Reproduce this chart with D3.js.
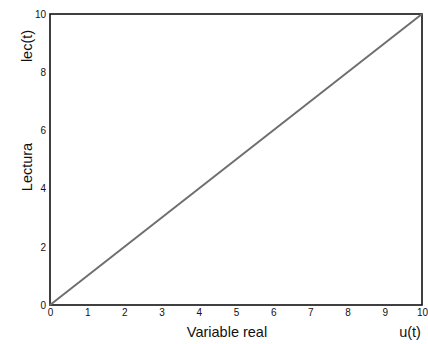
<!DOCTYPE html>
<html>
<head>
<meta charset="utf-8">
<script src="https://cdn.jsdelivr.net/npm/d3@7"></script>
<style>
  html, body { margin: 0; padding: 0; background: #fff; }
  svg { display: block; }
  text { font-family: "Liberation Sans", Arial, sans-serif; fill: #111; }
</style>
</head>
<body>
<svg id="chart" width="428" height="344"></svg>
<script>
// Sensor reading versus real variable: ideal linear response
const realValues = [0, 10];
const readingValues = [0, 10];
const xTicks = [0, 1, 2, 3, 4, 5, 6, 7, 8, 9, 10];
const yTicks = [0, 2, 4, 6, 8, 10];

const svg = d3.select("#chart");
const margin = { left: 50, right: 6, top: 14, bottom: 39 };
const W = 428, H = 344;

const x = d3.scaleLinear().domain([0, 10]).range([margin.left, W - margin.right]);
const y = d3.scaleLinear().domain([0, 10]).range([H - margin.bottom, margin.top]);

// x axis labels
const xAxis = d3.axisBottom(x).tickValues(xTicks).tickSize(0).tickPadding(4).tickFormat(d3.format("d"));
const gx = svg.append("g").attr("transform", `translate(0,${y(0)})`).call(xAxis);
gx.select(".domain").remove();
gx.selectAll("text").style("font-size", "10px").attr("font-family", null);

// y axis labels
const yAxis = d3.axisLeft(y).tickValues(yTicks).tickSize(0).tickPadding(4).tickFormat(d3.format("d"));
const gy = svg.append("g").attr("transform", `translate(${x(0)},0)`).call(yAxis);
gy.select(".domain").remove();
gy.selectAll("text").style("font-size", "10px").attr("font-family", null);

// plot frame
svg.append("rect")
  .attr("x", x(0)).attr("y", y(10))
  .attr("width", x(10) - x(0)).attr("height", y(0) - y(10))
  .attr("fill", "none").attr("stroke", "#111").attr("stroke-width", 1.6);

// response line
const line = d3.line().x((d, i) => x(realValues[i])).y(d => y(d));
svg.append("path")
  .datum(readingValues)
  .attr("d", line)
  .attr("fill", "none").attr("stroke", "#6e6e6e").attr("stroke-width", 2);

// axis titles
svg.append("text").attr("x", 227).attr("y", 337).attr("text-anchor", "middle")
  .style("font-size", "14.5px").text("Variable real");
svg.append("text").attr("x", 410).attr("y", 337).attr("text-anchor", "middle")
  .style("font-size", "14.5px").text("u(t)");
svg.append("text").attr("transform", "translate(32,46) rotate(-90)").attr("text-anchor", "middle")
  .style("font-size", "14.5px").text("lec(t)");
svg.append("text").attr("transform", "translate(32,167) rotate(-90)").attr("text-anchor", "middle")
  .style("font-size", "14.5px").text("Lectura");
</script>
</body>
</html>
